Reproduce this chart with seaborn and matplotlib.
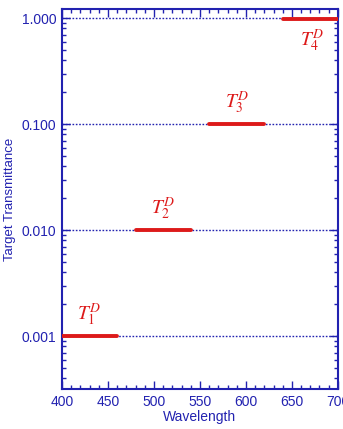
import matplotlib
matplotlib.use("Agg")
import matplotlib.pyplot as plt
import matplotlib.ticker as mticker
import seaborn as sns
import pandas as pd

# Hedef geçirgenlik basamakları
seg_start = [400, 480, 560, 640]
seg_end = [460, 540, 620, 700]
levels = [0.001, 0.01, 0.1, 0.98]
labels = [r'$T_1^D$', r'$T_2^D$', r'$T_3^D$', r'$T_4^D$']
label_x = [430, 510, 590, 672]
label_y = [0.0016, 0.016, 0.16, 0.62]
grid_levels = [0.001, 0.01, 0.1, 1.0]

blue = '#2222b0'
red = '#dd1a1a'

sns.set_theme(style="white")
plt.rcParams['font.family'] = ['Liberation Sans', 'DejaVu Sans']
plt.rcParams['mathtext.fontset'] = 'stix'

rows = []
for i, (a, b, v) in enumerate(zip(seg_start, seg_end, levels)):
    rows.append({'seg': i, 'Wavelength': a, 'T': v})
    rows.append({'seg': i, 'Wavelength': b, 'T': v})
df = pd.DataFrame(rows)

fig = plt.figure(figsize=(3.43, 4.29), dpi=100)
ax = fig.add_axes([0.181, 0.093, 0.804, 0.886])

for g in grid_levels:
    ax.axhline(g, color=blue, lw=1.0, ls=(0, (1.2, 1.2)), zorder=1)

sns.lineplot(data=df, x='Wavelength', y='T', units='seg', estimator=None,
             color=red, lw=2.8, ax=ax, zorder=3)

for x, y, t in zip(label_x, label_y, labels):
    ax.text(x, y, t, color=red, fontsize=14, ha='center', va='center')

ax.set_yscale('log')
ax.set_xlim(400, 700)
ax.set_ylim(10 ** -3.5, 1.22)
ax.xaxis.set_major_locator(mticker.MultipleLocator(50))
ax.xaxis.set_minor_locator(mticker.MultipleLocator(10))
ax.yaxis.set_major_locator(mticker.FixedLocator(grid_levels))
ax.yaxis.set_major_formatter(mticker.FixedFormatter(['0.001', '0.010', '0.100', '1.000']))
ax.yaxis.set_minor_locator(mticker.LogLocator(base=10, subs=range(2, 10)))
ax.yaxis.set_minor_formatter(mticker.NullFormatter())

ax.tick_params(which='both', direction='in', top=True, right=True, left=True, bottom=True,
               color=blue, labelcolor=blue, labelsize=10, width=1.0)
ax.tick_params(which='major', length=6, pad=4)
ax.tick_params(which='minor', length=3)
for s in ax.spines.values():
    s.set_color(blue)
    s.set_linewidth(1.5)

ax.set_xlabel('Wavelength', color=blue, fontsize=10, labelpad=1)
ax.set_ylabel('Target Transmittance', color=blue, fontsize=9.5, labelpad=4)

fig.savefig('out.png', dpi=100)
